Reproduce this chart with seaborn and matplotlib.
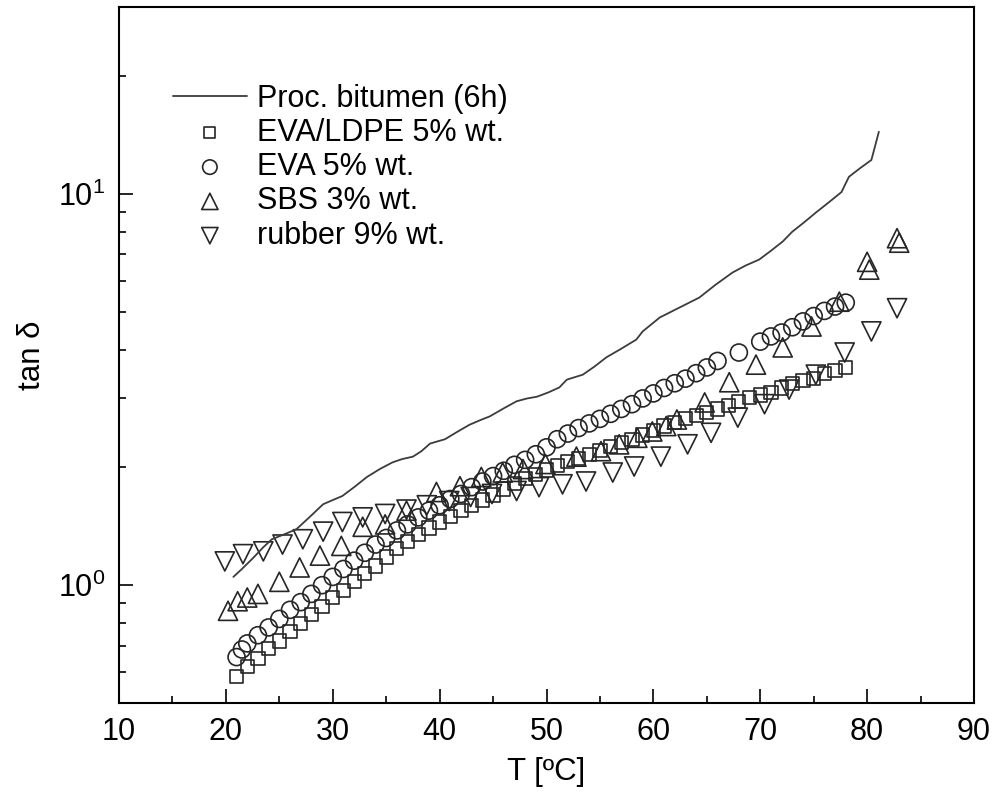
import matplotlib
matplotlib.use("Agg")
import matplotlib.pyplot as plt
import seaborn as sns
from matplotlib.ticker import MultipleLocator, LogLocator, NullFormatter

# ---------------- data ----------------
bitumen_T = [20.7, 21.5, 22.5, 23.5, 24.3, 25.5, 26.6, 27.8, 29.1, 30.0, 30.9, 32.0,
             33.2, 34.4, 35.6, 36.5, 37.5, 38.3, 39.1, 40.5, 41.6, 42.8, 43.8, 44.7,
             46.0, 47.2, 48.2, 49.1, 50.2, 51.2, 51.9, 53.4, 54.5, 55.6, 57.0, 58.4,
             59.0, 60.6, 62.5, 64.3, 65.8, 67.4, 68.6, 69.9, 71.0, 72.1, 73.0, 74.1,
             75.2, 76.4, 77.6, 78.3, 79.3, 80.4, 81.1]
bitumen_tan = [1.05, 1.10, 1.17, 1.25, 1.31, 1.35, 1.39, 1.49, 1.61, 1.65, 1.69, 1.78,
               1.89, 1.98, 2.06, 2.10, 2.13, 2.20, 2.30, 2.36, 2.46, 2.57, 2.64, 2.70,
               2.83, 2.95, 3.00, 3.03, 3.11, 3.20, 3.35, 3.45, 3.62, 3.82, 4.02, 4.24,
               4.45, 4.83, 5.13, 5.43, 5.85, 6.29, 6.55, 6.79, 7.15, 7.55, 8.00, 8.45,
               8.95, 9.50, 10.1, 11.05, 11.6, 12.2, 14.4]

evaldpe_T = [21, 22, 23, 24, 25, 26, 27, 28, 29, 30, 31, 32, 33, 34, 35, 36, 37, 38, 39,
             40, 41, 42, 43, 44, 45, 46, 47, 48, 49, 50, 51, 52, 53, 54, 55, 56, 57, 58,
             59, 60, 61, 62, 63, 64, 65, 66, 67, 68, 69, 70, 71, 72, 73, 74, 75, 76, 77, 78]
evaldpe_tan = [0.585, 0.62, 0.65, 0.69, 0.72, 0.76, 0.80, 0.84, 0.88, 0.93, 0.97, 1.02,
               1.07, 1.12, 1.18, 1.24, 1.29, 1.35, 1.40, 1.45, 1.50, 1.55, 1.60, 1.65,
               1.70, 1.76, 1.82, 1.87, 1.92, 1.97, 2.02, 2.07, 2.11, 2.16, 2.21, 2.26,
               2.31, 2.36, 2.42, 2.48, 2.55, 2.60, 2.66, 2.71, 2.76, 2.82, 2.88, 2.95,
               3.01, 3.06, 3.11, 3.19, 3.27, 3.33, 3.38, 3.47, 3.53, 3.60]

eva_T = [21, 21.5, 22, 23, 24, 25, 26, 27, 28, 29, 30, 31, 32, 33, 34, 35, 36, 37, 38,
         39, 40, 41, 42, 43, 44, 45, 46, 47, 48, 49, 50, 51, 52, 53, 54, 55, 56, 57, 58,
         59, 60, 61, 62, 63, 64, 65, 66, 68, 70, 71, 72, 73, 74, 75, 76, 77, 78]
eva_tan = [0.655, 0.685, 0.71, 0.745, 0.78, 0.82, 0.865, 0.905, 0.95, 1.00, 1.05, 1.10,
           1.155, 1.21, 1.27, 1.32, 1.38, 1.43, 1.49, 1.55, 1.60, 1.66, 1.71, 1.78,
           1.84, 1.90, 1.96, 2.03, 2.09, 2.16, 2.25, 2.36, 2.44, 2.52, 2.59, 2.66,
           2.74, 2.82, 2.90, 3.00, 3.09, 3.19, 3.28, 3.37, 3.48, 3.60, 3.74, 3.93,
           4.19, 4.32, 4.42, 4.56, 4.72, 4.87, 5.02, 5.15, 5.27]

sbs_T = [20.2, 21.1, 22.0, 23.0, 25.0, 26.9, 28.8, 30.8, 32.8, 34.9, 36.9, 39.7, 41.9,
         43.9, 45.9, 47.8, 49.9, 52.8, 55.1, 56.8, 58.5, 59.9, 61.2, 62.2, 64.8, 67.1,
         69.6, 72.1, 74.8, 77.4, 80.0, 80.2, 82.8, 83.0]
sbs_tan = [0.86, 0.91, 0.93, 0.95, 1.02, 1.11, 1.19, 1.26, 1.41, 1.43, 1.55, 1.73, 1.79,
           1.89, 1.94, 1.98, 2.04, 2.13, 2.20, 2.29, 2.38, 2.47, 2.55, 2.65, 2.93, 3.30,
           3.66, 4.05, 4.58, 5.30, 6.70, 6.40, 7.70, 7.50]

rubber_T = [19.9, 21.6, 23.5, 25.3, 27.2, 29.1, 30.9, 32.8, 34.9, 36.9, 38.8, 40.9, 42.9,
            44.9, 47.2, 49.3, 51.5, 53.7, 56.2, 58.2, 60.7, 63.2, 65.4, 67.9, 70.4, 72.7,
            75.2, 77.9, 80.4, 82.8]
rubber_tan = [1.15, 1.20, 1.22, 1.27, 1.31, 1.37, 1.45, 1.49, 1.52, 1.56, 1.60, 1.64, 1.68,
              1.71, 1.74, 1.78, 1.81, 1.84, 1.94, 2.01, 2.13, 2.29, 2.45, 2.68, 2.90, 3.16,
              3.45, 3.93, 4.45, 5.10]

labels = ["Proc. bitumen (6h)", "EVA/LDPE 5% wt.", "EVA 5% wt.", "SBS 3% wt.", "rubber 9% wt."]
x_ticks = [10, 20, 30, 40, 50, 60, 70, 80, 90]

# ---------------- style ----------------
sns.set_theme(style="ticks")
plt.rcParams["font.family"] = ["Liberation Sans", "DejaVu Sans"]
plt.rcParams["mathtext.default"] = "regular"
for k in ["text.color", "axes.labelcolor", "xtick.color", "ytick.color", "axes.edgecolor"]:
    plt.rcParams[k] = "black"

fig = plt.figure(figsize=(9.96, 8.05), dpi=100)
ax = fig.add_axes([0.1195, 0.1267, 0.8584, 0.8646])

edge = "#262626"
sns.lineplot(x=bitumen_T, y=bitumen_tan, ax=ax, color="#3c3c3c", lw=1.3,
             estimator=None, sort=False, label=labels[0])
sns.scatterplot(x=evaldpe_T, y=evaldpe_tan, ax=ax, marker="s", s=90,
                facecolors="none", edgecolor=edge, linewidth=1.2, label=labels[1])
sns.scatterplot(x=eva_T, y=eva_tan, ax=ax, marker="o", s=150,
                facecolors="none", edgecolor=edge, linewidth=1.2, label=labels[2])
sns.scatterplot(x=sbs_T, y=sbs_tan, ax=ax, marker="^", s=190,
                facecolors="none", edgecolor=edge, linewidth=1.2, label=labels[3])
sns.scatterplot(x=rubber_T, y=rubber_tan, ax=ax, marker="v", s=190,
                facecolors="none", edgecolor=edge, linewidth=1.2, label=labels[4])

ax.set_yscale("log")
ax.set_xlim(10, 90)
ax.set_ylim(0.5, 30)
ax.set_xticks(x_ticks)
ax.xaxis.set_minor_locator(MultipleLocator(5))
ax.yaxis.set_major_locator(LogLocator(base=10))
ax.yaxis.set_minor_locator(LogLocator(base=10, subs=range(2, 10)))
ax.yaxis.set_minor_formatter(NullFormatter())

for sp in ax.spines.values():
    sp.set_linewidth(1.5)
    sp.set_color("black")

ax.tick_params(which="both", direction="in", top=False, right=False,
               colors="black", labelsize=22)
ax.tick_params(which="major", length=10, width=1.2, pad=10)
ax.tick_params(which="minor", length=5, width=1.2)

ax.set_xlabel("T [ºC]", fontsize=22.5, labelpad=7)
ax.set_ylabel("tan δ", fontsize=22.5, labelpad=8)

ax.legend(loc="upper left", bbox_to_anchor=(0.063, 0.890), frameon=False,
          fontsize=22, handlelength=2.42, handletextpad=0.33, labelspacing=0.14,
          borderpad=0, borderaxespad=0, markerscale=0.85)

fig.savefig("out.png", dpi=100)
